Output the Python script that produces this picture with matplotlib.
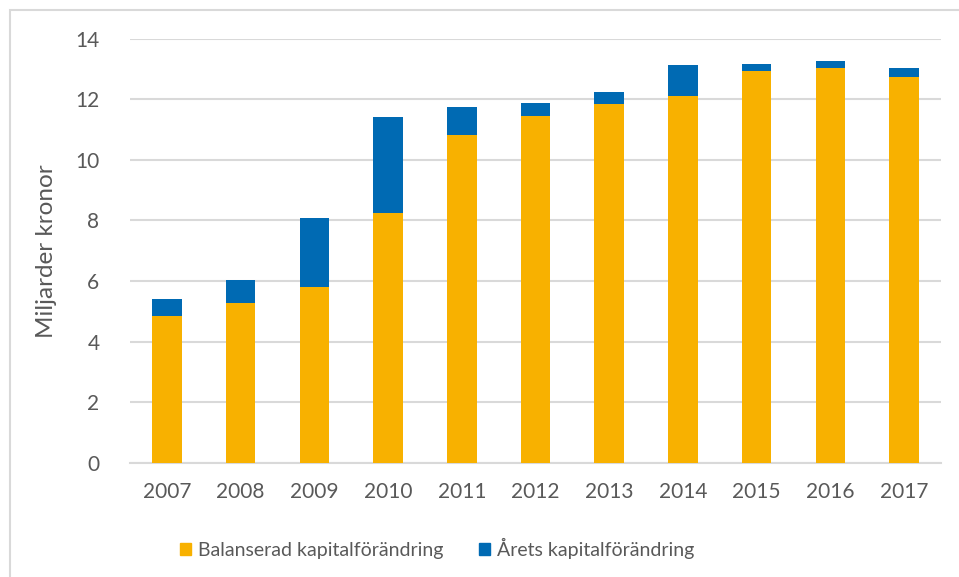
import matplotlib
matplotlib.use("Agg")
import matplotlib.pyplot as plt
from matplotlib.patches import Patch, Rectangle

# data (miljarder kronor)
years = ['2007', '2008', '2009', '2010', '2011', '2012',
         '2013', '2014', '2015', '2016', '2017']
balanserad = [4.83, 5.27, 5.81, 8.24, 10.81, 11.46, 11.85, 12.11, 12.94, 13.04, 12.72]
arets = [0.56, 0.75, 2.27, 3.17, 0.94, 0.41, 0.39, 1.02, 0.21, 0.22, 0.30]

orange = '#F8B100'
blue = '#006AB3'
grey_txt = '#595959'
grid_col = '#D9D9D9'

plt.rcParams['font.family'] = ['Lato', 'DejaVu Sans']

fig = plt.figure(figsize=(9.59, 5.77), dpi=100)
ax = fig.add_axes([130/959, 1 - 462.7/577, (941 - 130)/959, (462.7 - 38.7)/577])

x = range(len(years))
ax.bar(x, balanserad, width=0.4, color=orange, zorder=3)
ax.bar(x, arets, width=0.4, bottom=balanserad, color=blue, zorder=3)

ax.set_xlim(-0.5, len(years) - 0.5)
ax.set_ylim(0, 14)
ax.set_yticks(range(0, 15, 2))
ax.set_xticks(list(x))
ax.set_xticklabels(years)
ax.yaxis.grid(True, color=grid_col, linewidth=1.5, zorder=0)
ax.set_axisbelow(True)
for s in ['top', 'right', 'left']:
    ax.spines[s].set_visible(False)
ax.spines['bottom'].set_color(grid_col)
ax.spines['bottom'].set_linewidth(1.5)
ax.tick_params(axis='both', length=0, labelsize=15, colors=grey_txt)
ax.tick_params(axis='y', pad=22)
ax.tick_params(axis='x', pad=14)
ax.set_ylabel('Miljarder kronor', fontsize=17.5, color=grey_txt, labelpad=13)

handles = [Patch(color=orange, label='Balanserad kapitalförändring'),
           Patch(color=blue, label='Årets kapitalförändring')]
fig.legend(handles=handles, loc='center', bbox_to_anchor=(437/959, 1 - 548/577),
           ncol=2, frameon=False, fontsize=14, labelcolor=grey_txt,
           handlelength=0.6, handleheight=0.6, handletextpad=0.35,
           columnspacing=1.8)

# chart border, partly cut off at the right and bottom edges
fig.patches.append(Rectangle((9.5/959, -0.01), 1.0, 1 - 9.5/577 + 0.01,
                             transform=fig.transFigure, fill=False,
                             edgecolor=grid_col, linewidth=1.5))

fig.savefig('out.png', dpi=100)
